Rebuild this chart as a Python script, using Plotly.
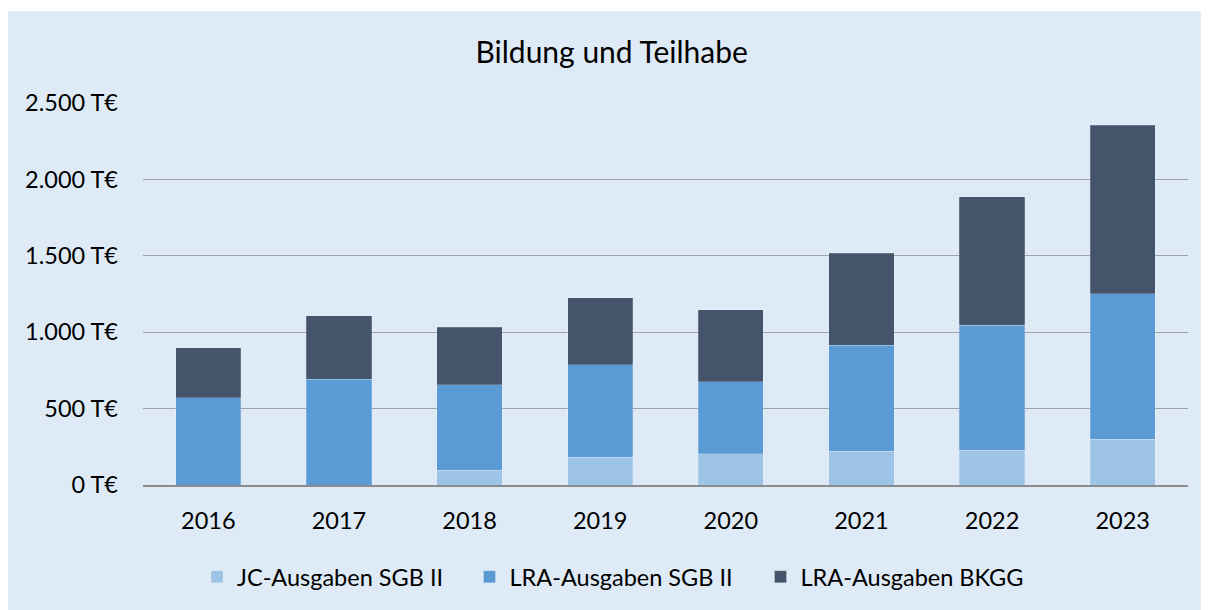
import plotly.graph_objects as go

years = ["2016", "2017", "2018", "2019", "2020", "2021", "2022", "2023"]
jc_sgb2 = [0, 0, 96, 181, 204, 222, 228, 298]
lra_sgb2 = [572, 692, 561, 607, 473, 692, 818, 955]
lra_bkgg = [327, 416, 376, 439, 470, 602, 842, 1103]
series_names = ["JC-Ausgaben SGB II", "LRA-Ausgaben SGB II", "LRA-Ausgaben BKGG"]
y_ticks = [0, 500, 1000, 1500, 2000, 2500]
y_tick_labels = ["0 T€", "500 T€", "1.000 T€", "1.500 T€", "2.000 T€", "2.500 T€"]

colors = ["#9DC3E6", "#5B9BD5", "#44546A"]
BG = "#DEEAF6"
FONT = "Lato, Carlito, 'Open Sans', sans-serif"

# figure sits at (8,8) in the page because of the default body margin;
# it is made a little wider than the window so the background reaches the right edge
W, H = 1216, 602
L, T, B = 135, 95, 124
R = W - 1180
pw, ph = W - L - R, H - T - B


def px_x(p):  # figure pixel -> paper x
    return (p - L) / pw


def px_y(p):  # figure pixel -> paper y
    return (H - B - p) / ph


fig = go.Figure()
legend_ids = ["legend", "legend2", "legend3"]
for name, vals, col, lg in zip(series_names, [jc_sgb2, lra_sgb2, lra_bkgg], colors, legend_ids):
    fig.add_trace(go.Bar(
        x=years, y=vals, name=name, legend=lg,
        marker=dict(color=col, line=dict(color="rgba(255,255,255,0.25)", width=0.8)),
        hoverinfo="x+y+name",
    ))

legend_left_px = [189, 461.5, 752.5]
legend_y = px_y(569)
leg_common = dict(orientation="h", xanchor="left", yanchor="middle",
                  font=dict(family=FONT, size=23.5, color="#000000"),
                  bgcolor="rgba(0,0,0,0)", borderwidth=0)

shapes = [
    dict(type="rect", xref="paper", yref="paper", x0=px_x(-5), x1=px_x(W + 5), y0=px_y(3), y1=px_y(-5),
         fillcolor="white", line=dict(width=0), layer="below"),
]

fig.update_layout(
    width=W, height=H,
    margin=dict(l=L, r=R, t=T, b=B, pad=0),
    barmode="stack",
    bargap=0.5,
    paper_bgcolor=BG,
    plot_bgcolor=BG,
    font=dict(family=FONT, size=23.5, color="#000000"),
    title=dict(text="Bildung und Teilhabe", x=603.7 / W, xanchor="center", y=1 - 44 / H, yanchor="middle",
               font=dict(family=FONT, size=30, color="#000000")),
    shapes=shapes,
    legend=dict(x=px_x(legend_left_px[0]), y=legend_y, **leg_common),
    legend2=dict(x=px_x(legend_left_px[1]), y=legend_y, **leg_common),
    legend3=dict(x=px_x(legend_left_px[2]), y=legend_y, **leg_common),
    xaxis=dict(showgrid=False, showline=True, linecolor="#8C8C8C", linewidth=1.5,
               ticks="", ticklabelstandoff=14, tickfont=dict(family=FONT, size=23.5)),
    yaxis=dict(range=[0, 2500], tickvals=y_ticks, ticktext=y_tick_labels,
               showgrid=True, gridcolor="#A3A3A3", gridwidth=1.3, zeroline=False,
               showline=False, ticks="", ticklabelstandoff=24, tickfont=dict(family=FONT, size=23.5)),
    showlegend=True,
)

fig.write_html(
    "out.html",
    post_script="document.documentElement.style.overflow='hidden';document.body.style.overflow='hidden';",
)
